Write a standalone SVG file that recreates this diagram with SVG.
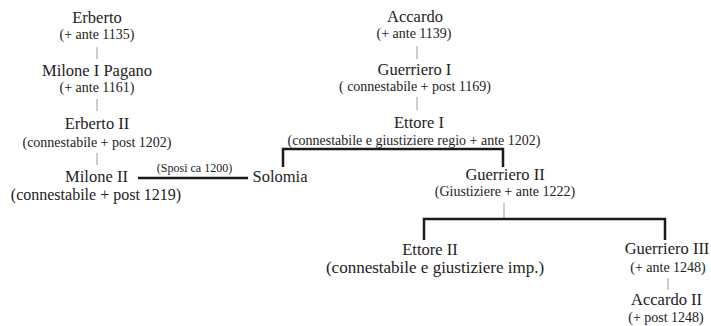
<svg xmlns="http://www.w3.org/2000/svg" width="711" height="326" viewBox="0 0 711 326">
<style>
text{fill:#222;text-anchor:middle}
.n{font-size:16.5px}
.s{font-size:14px}
.b{font-size:16px}
.bb{font-size:17px}
.lbl{font-size:12px}
.thin{stroke:#999;stroke-width:1;fill:none}
.thick{stroke:#1a1a1a;stroke-width:2.5;fill:none}
</style>
<rect width="711" height="326" fill="#fff"/>
<g font-family="'Liberation Serif', 'Times New Roman', 'DejaVu Serif', serif">
<g id="connectors">
<line class="thin" x1="97" y1="47" x2="97" y2="59"/>
<line class="thin" x1="97" y1="99" x2="97" y2="111"/>
<line class="thin" x1="97" y1="153" x2="97" y2="165"/>
<line class="thin" x1="417" y1="46" x2="417" y2="59"/>
<line class="thin" x1="417" y1="97" x2="417" y2="110"/>
<line class="thin" x1="504" y1="203" x2="504" y2="218"/>
<line class="thin" x1="668" y1="278" x2="668" y2="290"/>
<line class="thick" x1="138" y1="178" x2="248" y2="178"/>
<polyline class="thick" points="283,167 283,149 503,149 503,167"/>
<polyline class="thick" points="424,240 424,219 665,219 665,240"/>
<text class="lbl" x="194.5" y="172">(Sposi ca 1200)</text>
</g>
<g id="erberto"><text class="n" x="97" y="23">Erberto</text><text class="s" x="97" y="39">(+ ante 1135)</text></g>
<g id="milone1"><text class="n" x="97" y="76">Milone I Pagano</text><text class="s" x="97" y="92">(+ ante 1161)</text></g>
<g id="erberto2"><text class="n" x="97" y="129">Erberto II</text><text class="s" x="97" y="147">(connestabile + post 1202)</text></g>
<g id="milone2"><text class="n" x="96.5" y="182">Milone II</text><text class="b" x="96" y="200">(connestabile + post 1219)</text></g>
<g id="solomia"><text class="n" x="280" y="182">Solomia</text></g>
<g id="accardo"><text class="n" x="415" y="22">Accardo</text><text class="s" x="414" y="38">(+ ante 1139)</text></g>
<g id="guerriero1"><text class="n" x="414.5" y="75">Guerriero I</text><text class="s" x="415" y="91">( connestabile + post 1169)</text></g>
<g id="ettore1"><text class="n" x="419" y="128">Ettore I</text><text class="s" x="414" y="145">(connestabile e giustiziere regio + ante 1202)</text></g>
<g id="guerriero2"><text class="n" x="505" y="180">Guerriero II</text><text class="s" x="505" y="196">(Giustiziere + ante 1222)</text></g>
<g id="ettore2"><text class="n" x="430" y="255">Ettore II</text><text class="bb" x="435" y="273">(connestabile e giustiziere imp.)</text></g>
<g id="guerriero3"><text class="n" x="667" y="254">Guerriero III</text><text class="s" x="668" y="272">(+ ante 1248)</text></g>
<g id="accardo2"><text class="n" x="666.5" y="305">Accardo II</text><text class="s" x="666" y="322">(+ post 1248)</text></g>
</g>
</svg>
